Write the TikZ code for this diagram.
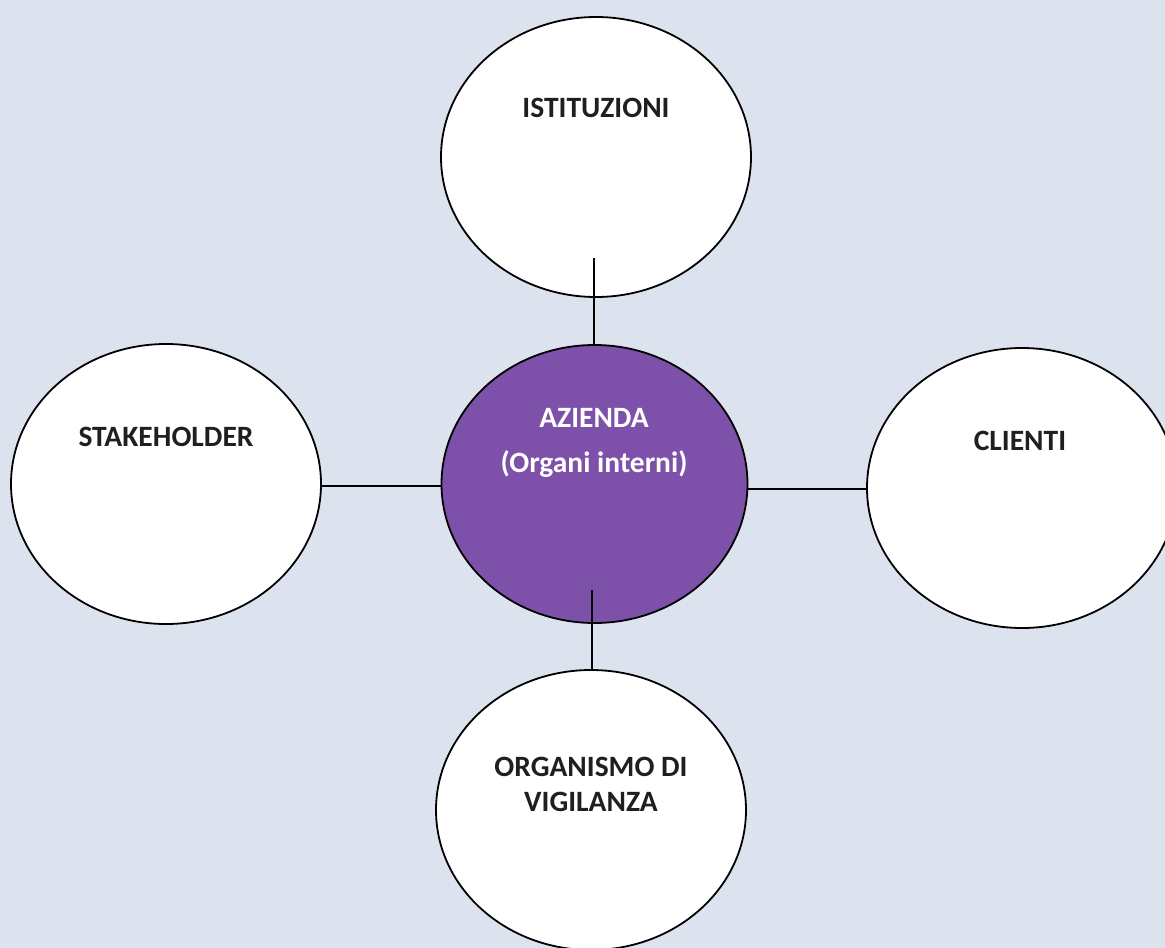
\documentclass[tikz,border=0pt]{standalone}
\usepackage{fontspec}
\setmainfont{Carlito}
\usetikzlibrary{shapes.geometric}
\definecolor{bgcol}{RGB}{221,227,238}
\definecolor{purp}{RGB}{125,80,170}
\tikzset{
  blob/.style={ellipse, draw=black, line width=1.8pt, fill=white, inner sep=0pt,
               minimum width=310pt, minimum height=280pt},
  hub/.style={blob, fill=purp, minimum width=306pt, minimum height=278pt},
  lbl/.style={font=\fontsize{29.5}{35}\selectfont\bfseries, align=center, inner sep=0pt, text=black!88},
  hublbl/.style={lbl, font=\fontsize{29.5}{45}\selectfont\bfseries, text=white},
  link/.style={line width=1.7pt, draw=black}
}
\begin{document}
\begin{tikzpicture}[x=1pt, y=-1pt]
\useasboundingbox (0,0) rectangle (1165,948);
\fill[bgcol] (0,0) rectangle (1165,948);

\node[blob] (ist) at (596,157) {};
\node[blob] (stk) at (166,484) {};
\node[blob] (cli) at (1022,488) {};
\node[blob] (org) at (591,810) {};
\node[hub] (az) at (594.5,484) {};

\node[lbl] (istT) at (596,108) {ISTITUZIONI};
\node[lbl] (stkT) at (166,437) {STAKEHOLDER};
\node[lbl] (cliT) at (1020,441) {CLIENTI};
\node[lbl] (orgT) at (591,784) {ORGANISMO DI\\VIGILANZA};
\node[hublbl] (azT) at (594,443) {AZIENDA\\(Organi interni)};

\coordinate (topIn) at (594,258);
\coordinate (botIn) at (592,590);
\coordinate (leftY) at (0,486);
\coordinate (rightY) at (0,489);
\draw[link] (topIn) -- (topIn |- az.north);
\draw[link] (stk.east |- leftY) -- (az.west |- leftY);
\draw[link] (az.east |- rightY) -- (cli.west |- rightY);
\draw[link] (botIn) -- (botIn |- org.north);
\end{tikzpicture}
\end{document}
